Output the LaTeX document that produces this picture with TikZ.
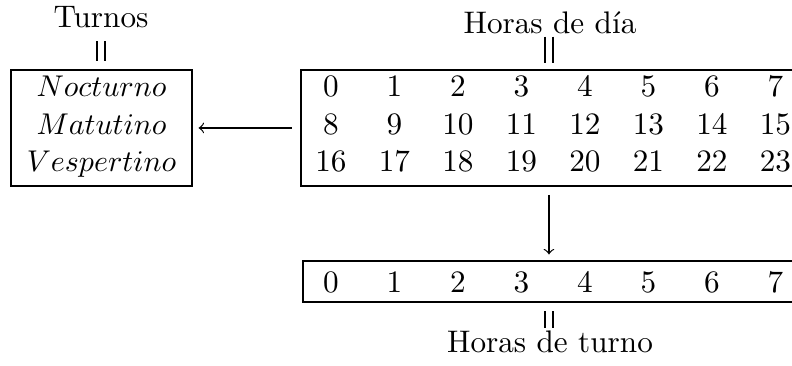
\documentclass[tikz,border=0pt]{standalone}
\usepackage{fontspec}
\usepackage{tikz}
\tikzset{
  >=to,
  % cajas y textos
  caja/.style={draw, inner sep=0pt},
  num/.style={anchor=base, inner sep=0pt},
  etiqueta/.style={anchor=base, inner sep=0pt},
  igual/.style={minimum width=2.2pt, minimum height=6pt, inner sep=0pt},
  % conexiones
  flecha/.style={->, shorten <=2.8pt, shorten >=2pt}
}
\begin{document}
\begin{tikzpicture}[font=\fontsize{10.4}{12.5}\selectfont]
  \useasboundingbox (0,0) rectangle (9.278,-4.287);
  % cajas
  \node[caja, minimum width=2.12cm, minimum height=1.359cm] (turnos) at (1.189,-1.499) {};
  \node[caja, minimum width=5.81cm, minimum height=1.359cm] (dia) at (6.431,-1.499) {};
  \node[caja, minimum width=5.763cm, minimum height=0.48cm] (turno) at (6.431,-3.298) {};
  % turnos
  \foreach \nombre [count=\i from 0] in {Nocturno,Matutino,Vespertino}
    \node[num] (t\i) at (1.189,{-1.136-0.4393*\i}) {$\nombre$};
  % horas de dia
  \foreach \fila in {0,1,2}
    \foreach \col in {0,...,7} {
      \pgfmathtruncatemacro{\hora}{8*\fila+\col}
      \node[num] (d\hora) at ({3.877+0.7438*\col},{-1.136-0.4393*\fila}) {\hora};
    }
  % horas de turno
  \foreach \col in {0,...,7}
    \node[num] (s\col) at ({3.877+0.7438*\col},-3.432) {\col};
  % etiquetas
  \node[etiqueta] (lturnos) at (1.183,-0.328) {Turnos};
  \node[etiqueta] (ldia) at (6.443,-0.387) {Horas de día};
  \node[etiqueta] (lturno) at (6.443,-4.135) {Horas de turno};
  \node[igual] (eq1) at (1.183,-0.597) {};
  \node[igual, minimum height=8.5pt] (eq2) at (6.431,-0.586) {};
  \node[igual, minimum height=5.3pt] (eq3) at (6.431,-3.745) {};
  \foreach \e in {eq1,eq2,eq3}
    \draw[line width=0.45pt] (\e.north west) -- (\e.south west)
      (\e.north east) -- (\e.south east);
  % flechas
  \draw[flecha] (dia) -- (turnos);
  \draw[flecha] (dia) -- (turno);
\end{tikzpicture}
\end{document}
